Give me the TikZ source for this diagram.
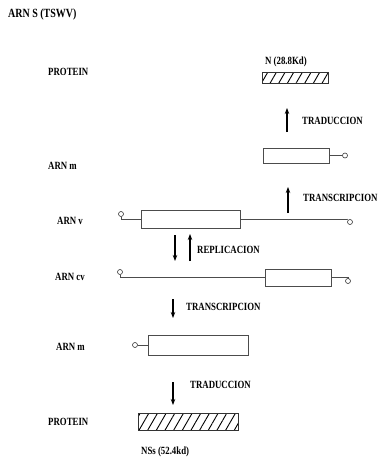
\documentclass[tikz,border=0pt]{standalone}
\usepackage{fontspec}
\newfontfamily\lblfont{Liberation Serif}[FakeStretch=0.8]
\usepackage{tikz}
\usetikzlibrary{arrows.meta,patterns.meta}

\begin{document}
\begin{tikzpicture}[x=1pt, y=-1pt,
  lbl/.style={anchor=west, inner sep=0pt, font={\lblfont\bfseries\fontsize{11}{12}\selectfont}},
  rnabox/.style={draw=black!70, line width=0.5pt, inner sep=0pt},
  protbox/.style={draw=black!80, line width=0.5pt, inner sep=0pt, pattern={Lines[angle=60, distance=7.5pt, line width=0.9pt]}},
  endcirc/.style={circle, draw=black!80, line width=0.6pt, minimum size=5pt, inner sep=0pt},
  strand/.style={black!70, line width=0.6pt},
  procarrow/.style={line width=1.3pt, -{Stealth[length=6pt, width=4.5pt]}}
]
\useasboundingbox (0,0) rectangle (380,461);
\node[lbl, font={\lblfont\bfseries\fontsize{12.5}{13}\selectfont}] (title) at (8,14) {ARN S (TSWV)};
% left labels
\node[lbl] (l1) at (48,72) {PROTEIN};
\node[lbl] (l2) at (48,166) {ARN m};
\node[lbl] (l3) at (57,221) {ARN v};
\node[lbl] (l4) at (55,277) {ARN cv};
\node[lbl] (l5) at (56,347) {ARN m};
\node[lbl] (l6) at (48,422) {PROTEIN};
% top protein
\node[lbl] (ntxt) at (265,62) {N (28.8Kd)};
\node[protbox, minimum width=66pt, minimum height=11pt] (nprot) at (295,77.5) {};
% ARN m (top)
\node[rnabox, minimum width=66pt, minimum height=15pt] (mtop) at (296,155.5) {};
\node[endcirc] (mtopc) at (345,155.5) {};
\draw[strand] (mtop.east) -- (mtopc);
% ARN v
\node[endcirc] (vl) at (121,214) {};
\node[rnabox, minimum width=99pt, minimum height=18pt] (vbox) at (190.5,219) {};
\coordinate (vr) at (347,219);
\node[endcirc] (vrc) at (350,222) {};
\draw[strand] (vl) |- (vbox.west);
\draw[strand] (vbox.east) -- (vr);
\draw[strand] (vr) -- (vrc);
% ARN cv
\node[endcirc] (cvl) at (120,272) {};
\node[rnabox, minimum width=66pt, minimum height=17pt] (cvbox) at (298,277.5) {};
\node[endcirc] (cvr) at (348,281) {};
\draw[strand] (cvl) |- (cvbox.west);
\draw[strand] (cvbox.east) -| (cvr);
% ARN m (bottom)
\node[endcirc] (mbotc) at (135,345) {};
\node[rnabox, minimum width=100pt, minimum height=20pt] (mbot) at (198,345) {};
\draw[strand] (mbotc) -- (mbot.west);
% bottom protein
\node[protbox, minimum width=100pt, minimum height=17pt] (nsprot) at (188,421.5) {};
\node[lbl] (nstxt) at (141,452) {NSs (52.4kd)};
% process arrows
\coordinate (a1s) at (287,132); \coordinate (a1e) at (287,108);
\draw[procarrow] (a1s) -- (a1e);
\node[lbl] (a1t) at (302,121) {TRADUCCION};
\coordinate (a2s) at (288,213); \coordinate (a2e) at (288,187);
\draw[procarrow] (a2s) -- (a2e);
\node[lbl] (a2t) at (303,198) {TRANSCRIPCION};
\coordinate (a3s) at (175,235); \coordinate (a3e) at (175,261);
\draw[procarrow] (a3s) -- (a3e);
\coordinate (a4s) at (190,261); \coordinate (a4e) at (190,234);
\draw[procarrow] (a4s) -- (a4e);
\node[lbl] (a3t) at (197,250) {REPLICACION};
\coordinate (a5s) at (173,299); \coordinate (a5e) at (173,318);
\draw[procarrow] (a5s) -- (a5e);
\node[lbl] (a5t) at (186,307) {TRANSCRIPCION};
\coordinate (a6s) at (173,382); \coordinate (a6e) at (173,405);
\draw[procarrow] (a6s) -- (a6e);
\node[lbl] (a6t) at (190,385) {TRADUCCION};
\end{tikzpicture}
\end{document}
